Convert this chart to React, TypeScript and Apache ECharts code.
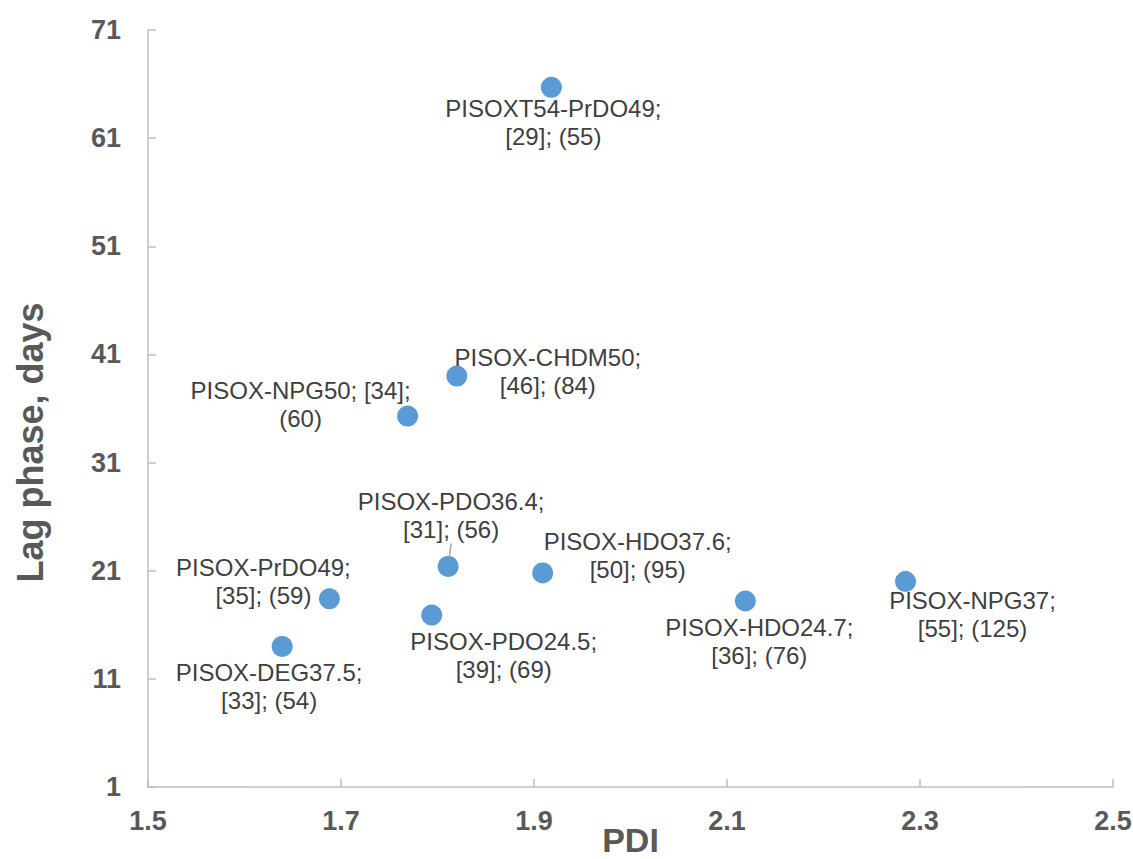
import React, { useEffect, useRef } from "react";
import * as echarts from "echarts";

const names = [
  "PISOXT54-PrDO49",
  "PISOX-CHDM50",
  "PISOX-NPG50",
  "PISOX-PDO36.4",
  "PISOX-HDO37.6",
  "PISOX-PrDO49",
  "PISOX-PDO24.5",
  "PISOX-DEG37.5",
  "PISOX-HDO24.7",
  "PISOX-NPG37",
];
const pdi = [1.918, 1.820, 1.769, 1.811, 1.909, 1.688, 1.794, 1.639, 2.119, 2.285];
const lagDays = [65.7, 39.0, 35.3, 21.4, 20.8, 18.4, 16.9, 14.0, 18.2, 20.0];
const bracketValues = [29, 46, 34, 31, 50, 35, 39, 33, 36, 55];
const parenValues = [55, 84, 60, 56, 95, 59, 69, 54, 76, 125];

const xTicks = [1.5, 1.7, 1.9, 2.1, 2.3, 2.5];
const yTicks = [1, 11, 21, 31, 41, 51, 61, 71];

// label placement (styling only)
const labelOffsets: [number, number][] = [
  [2, 35],
  [91, -5],
  [-107, -12],
  [3, -51],
  [95, -17],
  [-66, -17],
  [72, 40],
  [-13, 40],
  [14, 41],
  [67, 33],
];
const breakAfterBracket = [false, false, true, false, false, false, false, false, false, false];
const leaderLine = [false, false, false, true, false, false, false, false, false, false];

const FONT = "'Liberation Sans', Arial, sans-serif";

export default function App() {
  const ref = useRef<HTMLDivElement>(null);
  useEffect(() => {
    document.body.style.margin = "0";
    if (!ref.current) return;
    const chart = echarts.init(ref.current, undefined, { renderer: "svg" });
    const data = names.map((n, i) => {
      const text = breakAfterBracket[i]
        ? `${n}; [${bracketValues[i]}];\n(${parenValues[i]})`
        : `${n};\n[${bracketValues[i]}]; (${parenValues[i]})`;
      return {
        name: n,
        value: [pdi[i], lagDays[i]],
        label: { formatter: text },
        labelLine: { show: leaderLine[i] },
      };
    });
    chart.setOption({
      animation: false,
      grid: { left: 148, right: 20, top: 30, bottom: 72, containLabel: false, outerBoundsMode: "none" },
      xAxis: {
        type: "value",
        min: 1.5,
        max: 2.5,
        name: "PDI",
        nameLocation: "middle",
        nameGap: 38,
        nameMoveOverlap: false,
        nameTextStyle: { fontFamily: FONT, fontSize: 34, lineHeight: 30, fontWeight: "bold", color: "#595959" },
        axisLine: { show: true, lineStyle: { color: "#bfbfbf", width: 1.5 } },
        axisTick: { show: true, inside: true, length: 8, customValues: xTicks, lineStyle: { color: "#bfbfbf", width: 1.5 } },
        axisLabel: {
          customValues: xTicks,
          margin: 20,
          fontFamily: FONT,
          fontSize: 27,
          fontWeight: "bold",
          color: "#595959",
          formatter: (v: number) => v.toFixed(1),
        },
        splitLine: { show: false },
      },
      yAxis: {
        type: "value",
        min: 1,
        max: 71,
        name: "Lag phase, days",
        nameLocation: "middle",
        nameGap: 100,
        nameMoveOverlap: false,
        nameTextStyle: { fontFamily: FONT, fontSize: 36, fontWeight: "bold", color: "#595959", padding: [0, 68, 0, 0] },
        axisLine: { show: true, lineStyle: { color: "#bfbfbf", width: 1.5 } },
        axisTick: { show: true, inside: true, length: 8, customValues: yTicks, lineStyle: { color: "#bfbfbf", width: 1.5 } },
        axisLabel: {
          customValues: yTicks,
          margin: 27,
          fontFamily: FONT,
          fontSize: 27,
          fontWeight: "bold",
          color: "#595959",
        },
        splitLine: { show: false },
      },
      series: [
        {
          type: "scatter",
          symbol: "circle",
          symbolSize: 21,
          itemStyle: { color: "#5b9bd5", opacity: 1 },
          label: {
            show: true,
            position: "inside",
            align: "center",
            verticalAlign: "middle",
            fontFamily: FONT,
            fontSize: 24,
            lineHeight: 28,
            color: "#404040",
          },
          labelLine: { show: false, lineStyle: { color: "#a6a6a6", width: 1.5 } },
          labelLayout: (p: any) => ({
            dx: labelOffsets[p.dataIndex][0],
            dy: labelOffsets[p.dataIndex][1],
          }),
          data,
        },
      ],
    });
    return () => chart.dispose();
  }, []);
  return <div ref={ref} style={{ width: 1133, height: 859 }} />;
}
